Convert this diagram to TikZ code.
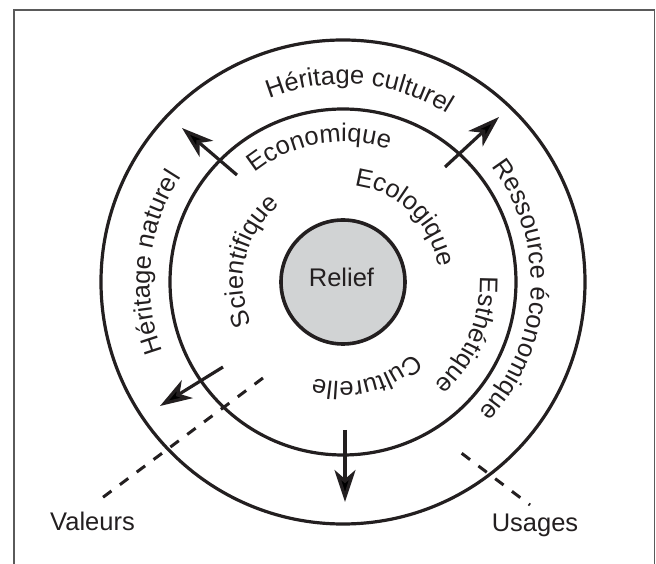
\documentclass[tikz,border=0pt]{standalone}
\usepackage{fontspec}
\setmainfont{Liberation Sans}
\usetikzlibrary{arrows.meta,decorations.text}
\definecolor{relgray}{HTML}{D1D3D4}
\definecolor{inkc}{HTML}{231F20}
\definecolor{framec}{HTML}{5A5A5A}
\newcommand\lblfont{\fontsize{25.5}{30}\selectfont}
\begin{document}
\begin{tikzpicture}[x=1pt,y=1pt,
  ring/.style={circle,draw=inkc,line width=3.2pt,inner sep=0pt},
  ptr/.style={draw=inkc,line width=3.2pt,-{Stealth[length=32pt,width=21pt,inset=9pt]}},
  guide/.style={draw=inkc,line width=3pt,dash pattern=on 10.5pt off 10.5pt},
  lbl/.style={font=\lblfont,text=inkc},
  curved/.style={decorate,decoration={text along path,text align=center,text color=inkc,text={|\lblfont|#1}}}]
\useasboundingbox (-343,-282) rectangle (313,282);
% frame
\draw[line width=1.8pt,color=framec] (-329,-300) -- (-329,272) -- (311.5,272) -- (311.5,-300);
% circles
\node[ring,minimum size=484pt] (outer) at (0,0) {};
\node[ring,minimum size=346pt] (inner) at (0,0) {};
\node[ring,line width=3.6pt,fill=relgray,minimum size=124pt] (relief) at (0,0) {};
\node[lbl,anchor=base] (relieftext) at (-1.5,-5) {Relief};
% outer ring texts
\path[curved={Héritage culturel}] (145:198) arc[start angle=145,end angle=25,radius=198];
\path[curved={Ressource économique}] (57:188) arc[start angle=57,end angle=-63,radius=188];
\path[curved={Héritage naturel}] (234:193) arc[start angle=234,end angle=114,radius=193];
% inner ring texts
\path[curved={Economique}] (150:140) arc[start angle=150,end angle=50,radius=140];
\path[curved={Ecologique}] (106:97) arc[start angle=106,end angle=-14,radius=97];
\path[curved={Scientifique}] (227:100) arc[start angle=227,end angle=107,radius=100];
\path[curved={Esthétique}] (30:137) arc[start angle=30,end angle=-76,radius=137];
\path[curved={Culturelle}] (-16:100) arc[start angle=-16,end angle=-136,radius=100];
% arrows
\coordinate (ulA) at (-106,107); \coordinate (ulB) at (-161,154);
\coordinate (urA) at (102,115);  \coordinate (urB) at (156,165);
\coordinate (llA) at (-120,-85); \coordinate (llB) at (-183,-124);
\coordinate (bA) at (2,-148);    \coordinate (bB) at (2,-220);
\draw[ptr] (ulA) -- (ulB);
\draw[ptr] (urA) -- (urB);
\draw[ptr] (llA) -- (llB);
\draw[ptr] (bA) -- (bB);
% dashed guides and labels
\node[lbl,anchor=base] (valeurs) at (-250.5,-249) {Valeurs};
\node[lbl,anchor=base] (usages) at (192,-250) {Usages};
\coordinate (vA) at (-80,-96);  \coordinate (vB) at (-241,-216);
\coordinate (uA) at (118.7,-171.3); \coordinate (uB) at (187,-223);
\draw[guide] (vA) -- (vB);
\draw[guide] (uA) -- (uB);
\end{tikzpicture}
\end{document}
